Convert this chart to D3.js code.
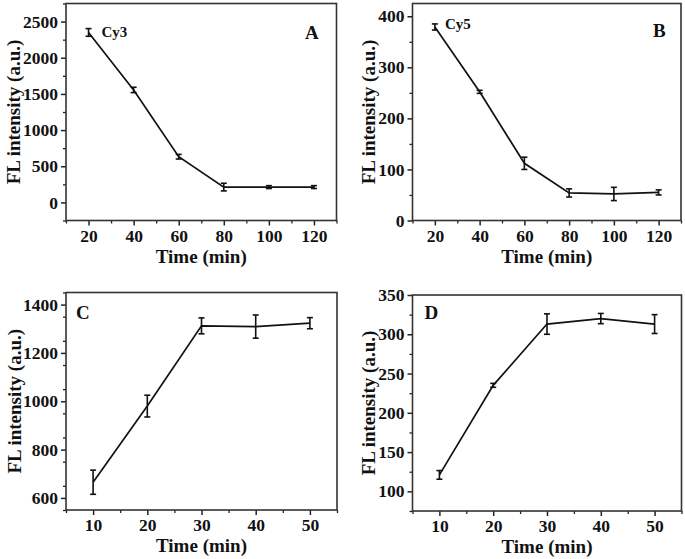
<!DOCTYPE html>
<html>
<head>
<meta charset="utf-8">
<script src="https://cdn.jsdelivr.net/npm/d3@7"></script>
<style>
  html, body { margin: 0; padding: 0; background: #fff; }
  svg { display: block; }
  text { font-family: "Liberation Serif", "Times New Roman", serif; font-weight: bold; fill: #111; }
</style>
</head>
<body>
<svg id="chart" width="685" height="559"></svg>
<script>
// ---- data ----
const timeAB = [20, 40, 60, 80, 100, 120];
const cy3Values = [2350, 1555, 632, 212, 212, 212];
const cy3Errors = [53, 37, 32, 53, 20, 20];
const cy5Values = [379, 252, 112, 54, 52, 55];
const cy5Errors = [6, 3, 12, 8, 13, 5];
const timeCD = [10, 20, 30, 40, 50];
const cValues = [665, 980, 1312, 1309, 1323];
const cErrors = [50, 45, 33, 48, 23];
const dValues = [121, 235, 313, 320, 313];
const dErrors = [5.5, 2.5, 13, 6.5, 12];

const xTicksAB = [20, 40, 60, 80, 100, 120];
const xTicksCD = [10, 20, 30, 40, 50];
const yTicksA = [0, 500, 1000, 1500, 2000, 2500];
const yTicksB = [0, 100, 200, 300, 400];
const yTicksC = [600, 800, 1000, 1200, 1400];
const yTicksD = [100, 150, 200, 250, 300, 350];

const xTitle = "Time (min)";
const yTitle = "FL intensity (a.u.)";

// ---- layout ----
const panels = [
  { x: timeAB, y: cy3Values, e: cy3Errors, xd: [10, 130], yd: [-250, 2750], xt: xTicksAB, yt: yTicksA, xStep: 10, yStep: 250,
    box: [66, 3.5, 336.5, 220.5], titleX: 20, letter: "A", letterPos: [305, 32], tag: "Cy3", tagPos: [101.5, 32], tagSize: 15 },
  { x: timeAB, y: cy5Values, e: cy5Errors, xd: [10, 130], yd: [0, 425], xt: xTicksAB, yt: yTicksB, xStep: 10, yStep: 50,
    box: [412.5, 3.5, 681, 220.5], titleX: 375, letter: "B", letterPos: [653, 30], tag: "Cy5", tagPos: [445, 23.5], tagSize: 15 },
  { x: timeCD, y: cValues, e: cErrors, xd: [5, 55], yd: [550, 1450], xt: xTicksCD, yt: yTicksC, xStep: 5, yStep: 100,
    box: [66, 292.5, 337, 510], titleX: 20.5, letter: "C", letterPos: [76, 312.5] },
  { x: timeCD, y: dValues, e: dErrors, xd: [5, 55], yd: [75, 350], xt: xTicksCD, yt: yTicksD, xStep: 5, yStep: 25,
    box: [412.5, 295, 681.5, 511], titleX: 375, letter: "D", letterPos: [424.5, 312.5] }
];

const svg = d3.select("#chart");

panels.forEach(p => {
  const [l, t, r, b] = p.box;
  const x = d3.scaleLinear().domain(p.xd).range([l, r]);
  const y = d3.scaleLinear().domain(p.yd).range([b, t]);
  const g = svg.append("g");

  // minor ticks
  const xMinor = d3.range(p.xd[0], p.xd[1] + 1e-9, p.xStep).filter(v => !p.xt.includes(v));
  const yMinor = d3.range(p.yd[0], p.yd[1] + 1e-9, p.yStep).filter(v => !p.yt.includes(v));
  g.append("g").attr("transform", `translate(0,${b})`)
    .call(d3.axisBottom(x).tickValues(xMinor).tickSize(3).tickFormat(""))
    .call(s => s.select(".domain").remove())
    .call(s => s.selectAll("line").attr("stroke", "#222").attr("stroke-width", 1.3));
  g.append("g").attr("transform", `translate(${l},0)`)
    .call(d3.axisLeft(y).tickValues(yMinor).tickSize(3).tickFormat(""))
    .call(s => s.select(".domain").remove())
    .call(s => s.selectAll("line").attr("stroke", "#222").attr("stroke-width", 1.3));

  // major axes
  const xa = g.append("g").attr("transform", `translate(0,${b})`)
    .call(d3.axisBottom(x).tickValues(p.xt).tickSize(5).tickPadding(4).tickFormat(d3.format("d")));
  const ya = g.append("g").attr("transform", `translate(${l},0)`)
    .call(d3.axisLeft(y).tickValues(p.yt).tickSize(5).tickPadding(3).tickFormat(d3.format("d")));
  [xa, ya].forEach(a => {
    a.select(".domain").remove();
    a.selectAll("line").attr("stroke", "#222").attr("stroke-width", 1.5);
    a.selectAll("text").attr("font-size", 17.5).attr("fill", "#111")
      .style("font-family", '"Liberation Serif", serif').style("font-weight", "bold");
  });

  // frame
  g.append("rect").attr("x", l).attr("y", t).attr("width", r - l).attr("height", b - t)
    .attr("fill", "none").attr("stroke", "#333").attr("stroke-width", 1.6);

  const data = p.x.map((v, i) => ({ x: v, y: p.y[i], e: p.e[i] }));

  // line
  g.append("path").datum(data)
    .attr("fill", "none").attr("stroke", "#111").attr("stroke-width", 1.7)
    .attr("d", d3.line().x(d => x(d.x)).y(d => y(d.y)));

  // error bars
  const eb = g.append("g").attr("stroke", "#111").attr("stroke-width", 1.6);
  data.forEach(d => {
    const cx = x(d.x), y1 = y(d.y + d.e), y2 = y(d.y - d.e);
    eb.append("line").attr("x1", cx).attr("x2", cx).attr("y1", y1).attr("y2", y2);
    eb.append("line").attr("x1", cx - 3).attr("x2", cx + 3).attr("y1", y1).attr("y2", y1);
    eb.append("line").attr("x1", cx - 3).attr("x2", cx + 3).attr("y1", y2).attr("y2", y2);
  });

  // titles
  g.append("text").attr("x", (l + r) / 2).attr("y", b + 42)
    .attr("text-anchor", "middle").attr("font-size", 19).text(xTitle);
  g.append("text").attr("transform", `translate(${p.titleX},${(t + b) / 2}) rotate(-90)`)
    .attr("text-anchor", "middle").attr("font-size", 19).text(yTitle);

  // panel letter
  g.append("text").attr("x", p.letterPos[0]).attr("y", p.letterPos[1]).attr("dy", "0.35em")
    .attr("font-size", 19).text(p.letter);
  if (p.tag) {
    g.append("text").attr("x", p.tagPos[0]).attr("y", p.tagPos[1]).attr("dy", "0.35em")
      .attr("font-size", p.tagSize).text(p.tag);
  }
});
</script>
</body>
</html>
